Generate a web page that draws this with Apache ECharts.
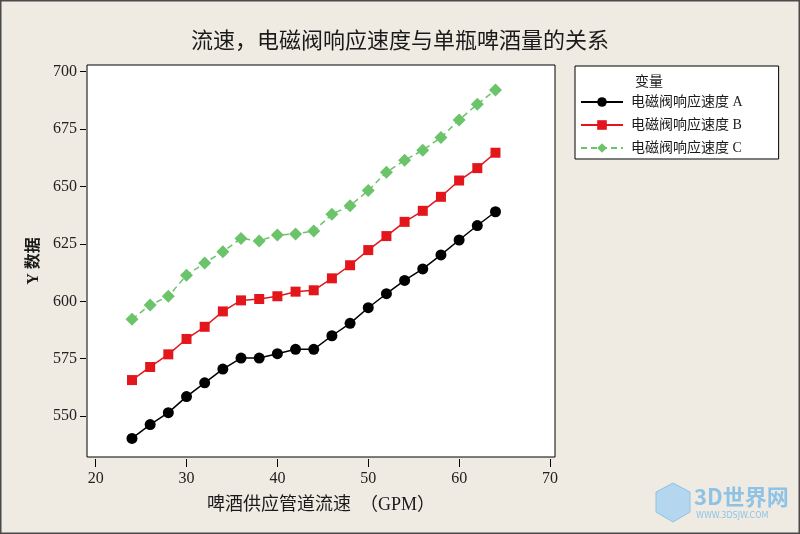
<!DOCTYPE html>
<html>
<head>
<meta charset="utf-8">
<script src="https://cdn.jsdelivr.net/npm/echarts@6/dist/echarts.min.js"></script>
<style>
  html, body { margin: 0; padding: 0; background: #efebe2; }
  #chart { width: 800px; height: 534px; }
</style>
</head>
<body>
<div id="chart"></div>
<script>
// flow rate (GPM)
const flow = [24, 26, 28, 30, 32, 34, 36, 38, 40, 42, 44, 46, 48, 50, 52, 54, 56, 58, 60, 62, 64]
const valveA = [540.3, 546.3, 551.5, 558.5, 564.5, 570.5, 575.3, 575.3, 577.2, 579.1, 579.1, 585.0, 590.4, 597.2, 603.3, 609.1, 614.1, 620.2, 626.7, 633.0, 639.0]
const valveB = [565.7, 571.4, 576.9, 583.6, 588.9, 595.6, 600.4, 601.0, 602.2, 604.2, 604.8, 610.0, 615.7, 622.3, 628.4, 634.6, 639.4, 645.5, 652.6, 658.0, 664.7]
const valveC = [592.2, 598.4, 602.2, 611.3, 616.7, 621.6, 627.4, 626.3, 628.9, 629.3, 630.6, 637.9, 641.6, 648.2, 656.2, 661.4, 665.8, 671.3, 679.0, 685.8, 692.0]
const seriesNames = ['电磁阀响应速度 A', '电磁阀响应速度 B', '电磁阀响应速度 C']
const xTicks = [20, 30, 40, 50, 60, 70]
const yTicks = [550, 575, 600, 625, 650, 675, 700]

const FONT = "'Liberation Serif', 'Noto Sans CJK SC', serif"
const chart = echarts.init(document.getElementById('chart'))

const pairs = ys => flow.map((x, i) => [x, ys[i]])

const option = {
  backgroundColor: '#efebe2',
  animation: false,
  title: [
    {
      text: '流速，电磁阀响应速度与单瓶啤酒量的关系',
      left: 'center',
      top: 26,
      textStyle: { color: '#1a1a1a', fontSize: 22, fontWeight: 'normal', fontFamily: FONT }
    },
    {
      text: '变量',
      left: 630,
      top: 70,
      textStyle: { color: '#1a1a1a', fontSize: 14, fontWeight: 'normal', fontFamily: FONT }
    }
  ],
  legend: {
    data: seriesNames,
    orient: 'vertical',
    left: 575,
    top: 66,
    backgroundColor: '#fff',
    borderColor: '#000',
    borderWidth: 1,
    borderRadius: 0,
    padding: [29, 36, 4, 5],
    itemWidth: 42,
    itemHeight: 12,
    itemGap: 9,
    textStyle: { color: '#1a1a1a', fontSize: 14, fontFamily: FONT, padding: [0, 0, 0, 3] }
  },
  grid: {
    left: 87,
    top: 65,
    width: 468,
    height: 392,
    show: true,
    backgroundColor: '#fff',
    borderColor: '#000',
    borderWidth: 1
  },
  xAxis: {
    type: 'value',
    min: 19.05,
    max: 70.55,
    offset: 2,
    name: '啤酒供应管道流速  （GPM）',
    nameLocation: 'middle',
    nameGap: 37,
    nameTextStyle: { color: '#1a1a1a', fontSize: 18, fontFamily: FONT },
    axisLine: { show: false },
    axisTick: { show: true, customValues: xTicks, length: 8, lineStyle: { color: '#000' } },
    axisLabel: { customValues: xTicks, margin: 12, color: '#222', fontSize: 16, fontFamily: FONT },
    splitLine: { show: false }
  },
  yAxis: {
    type: 'value',
    min: 532.2,
    max: 702.9,
    offset: 1,
    name: 'Y 数据',
    nameLocation: 'middle',
    nameGap: 44,
    nameRotate: 90,
    nameTextStyle: { color: '#1a1a1a', fontSize: 16, fontWeight: 'bold', fontFamily: FONT },
    axisLine: { show: false },
    axisTick: { show: true, customValues: yTicks, length: 6, lineStyle: { color: '#000' } },
    axisLabel: { customValues: yTicks, margin: 9, color: '#222', fontSize: 16, fontFamily: FONT },
    splitLine: { show: false }
  },
  graphic: [
    {
      type: 'rect',
      shape: { x: 0.5, y: 0.5, width: 799, height: 533 },
      style: { fill: null, stroke: '#4a4a4a', lineWidth: 2 },
      z: 100
    },
    {
      type: 'polygon',
      shape: { points: [[673, 483], [690, 492], [690, 512], [673, 522], [656, 512], [656, 492]] },
      style: { fill: '#b4d7ef', stroke: '#8fc3e6', lineWidth: 1 }
    },
    {
      type: 'text',
      left: 694,
      top: 486,
      style: { text: '3D世界网', fill: '#8fc3e6', font: 'bold 22px "Noto Sans CJK SC"' }
    },
    {
      type: 'text',
      left: 696,
      top: 512,
      style: { text: 'WWW.3DSJW.COM', fill: '#8fc3e6', font: '8px "DejaVu Sans"' }
    }
  ],
  series: [
    {
      name: seriesNames[0],
      type: 'line',
      data: pairs(valveA),
      symbol: 'circle',
      symbolSize: 11,
      itemStyle: { color: '#000' },
      lineStyle: { color: '#000', width: 1.5 }
    },
    {
      name: seriesNames[1],
      type: 'line',
      data: pairs(valveB),
      symbol: 'rect',
      symbolSize: 10,
      itemStyle: { color: '#e3161c' },
      lineStyle: { color: '#e3161c', width: 1.5 }
    },
    {
      name: seriesNames[2],
      type: 'line',
      data: pairs(valveC),
      symbol: 'diamond',
      symbolSize: 13,
      itemStyle: { color: '#6cc46a' },
      lineStyle: { color: '#6cc46a', width: 1.5, type: [6, 4] }
    }
  ]
}

chart.setOption(option)
</script>
</body>
</html>
